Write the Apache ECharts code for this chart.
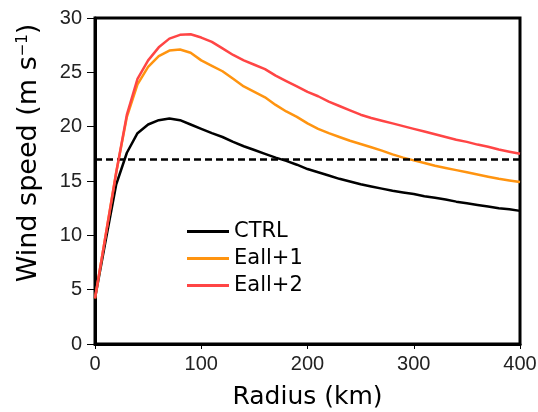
<!DOCTYPE html>
<html>
<head>
<meta charset="utf-8">
<script src="https://cdn.jsdelivr.net/npm/echarts@6/dist/echarts.min.js"></script>
<style>
  html, body { margin: 0; padding: 0; background: #fff; }
  #main { width: 538px; height: 412px; }
</style>
</head>
<body>
<div id="main"></div>
<script>
// radius (km), every 10 km
var radius = [0, 10, 20, 30, 40, 50, 60, 70, 80, 90, 100, 110, 120, 130, 140, 150, 160, 170, 180, 190, 200,
  210, 220, 230, 240, 250, 260, 270, 280, 290, 300, 310, 320, 330, 340, 350, 360, 370, 380, 390, 400];

// wind speed (m/s)
var ctrl = [4.2, 9.5, 14.7, 17.6, 19.4, 20.2, 20.6, 20.75, 20.6, 20.2, 19.8, 19.4, 19.05, 18.6, 18.2, 17.85, 17.5, 17.15, 16.85, 16.5, 16.1,
  15.8, 15.5, 15.2, 14.95, 14.7, 14.5, 14.3, 14.1, 13.95, 13.8, 13.6, 13.45, 13.3, 13.1, 12.95, 12.8, 12.65, 12.5, 12.4, 12.25];
var eall1 = [4.2, 10.0, 15.8, 20.9, 23.9, 25.5, 26.5, 27.0, 27.1, 26.8, 26.1, 25.6, 25.1, 24.4, 23.7, 23.2, 22.7, 22.0, 21.4, 20.9, 20.3,
  19.8, 19.4, 19.05, 18.7, 18.4, 18.1, 17.8, 17.45, 17.15, 16.9, 16.65, 16.4, 16.2, 16.0, 15.8, 15.6, 15.4, 15.2, 15.05, 14.9];
var eall2 = [4.2, 10.0, 15.8, 21.1, 24.4, 26.1, 27.3, 28.1, 28.45, 28.5, 28.2, 27.8, 27.2, 26.6, 26.1, 25.7, 25.3, 24.7, 24.2, 23.7, 23.2,
  22.8, 22.3, 21.9, 21.5, 21.1, 20.8, 20.55, 20.3, 20.05, 19.8, 19.55, 19.3, 19.05, 18.8, 18.6, 18.35, 18.15, 17.9, 17.7, 17.5];

var threshold = 17;

function pairs(vals) {
  return radius.map(function (r, i) { return [r, vals[i]]; });
}

var chart = echarts.init(document.getElementById('main'));

var lbl = { fontFamily: 'Liberation Sans', fontSize: 20, color: '#222' };

chart.setOption({
  animation: false,
  grid: {
    left: 95, right: 18, top: 18, bottom: 68,
    outerBoundsMode: 'none', containLabel: false,
    show: true, borderColor: '#000', borderWidth: 3
  },
  legend: {
    orient: 'vertical',
    left: 187, top: 221, padding: 0,
    icon: 'rect',
    itemWidth: 42, itemHeight: 3, itemGap: 6, itemTextGap: 10,
    textStyle: { fontFamily: 'DejaVu Sans', fontSize: 21, color: '#000', lineHeight: 20 },
    data: ['CTRL', 'Eall+1', 'Eall+2']
  },
  xAxis: {
    type: 'value', min: 0, max: 400, interval: 100,
    name: 'Radius (km)', nameLocation: 'middle', nameGap: 41,
    nameTextStyle: { fontFamily: 'DejaVu Sans', fontSize: 25, color: '#000' },
    axisLine: { lineStyle: { color: '#000', width: 3 } },
    axisTick: { length: 5, lineStyle: { color: '#000', width: 1 } },
    axisLabel: Object.assign({ margin: 10 }, lbl),
    splitLine: { show: false }
  },
  yAxis: {
    type: 'value', min: 0, max: 30, interval: 5,
    axisLine: { show: true, lineStyle: { color: '#000', width: 3 } },
    axisTick: { show: true, length: 8, lineStyle: { color: '#000', width: 1 } },
    axisLabel: Object.assign({ margin: 13 }, lbl),
    splitLine: { show: false }
  },
  graphic: [{
    type: 'text',
    x: 29, y: 153,
    rotation: Math.PI / 2,
    style: {
      text: 'Wind speed (m s{sup|−1})',
      fontFamily: 'DejaVu Sans', fontSize: 27, fill: '#000',
      align: 'center', verticalAlign: 'middle',
      rich: { sup: { fontFamily: 'DejaVu Sans', fontSize: 15, verticalAlign: 'top', padding: [0, 0, 11, 0] } }
    }
  }],
  series: [{
    name: 'CTRL', type: 'line', symbol: 'none',
    lineStyle: { color: '#000', width: 2.5 }, itemStyle: { color: '#000' },
    data: pairs(ctrl),
    markLine: {
      silent: true, symbol: 'none', label: { show: false },
      lineStyle: { color: '#000', width: 2.5, type: [7, 4] },
      data: [{ yAxis: threshold }]
    },
    z: 3
  }, {
    name: 'Eall+1', type: 'line', symbol: 'none',
    lineStyle: { color: '#ff9410', width: 2.5 }, itemStyle: { color: '#ff9410' },
    data: pairs(eall1), z: 4
  }, {
    name: 'Eall+2', type: 'line', symbol: 'none',
    lineStyle: { color: '#ff4545', width: 2.5 }, itemStyle: { color: '#ff4545' },
    data: pairs(eall2), z: 5
  }]
});
</script>
</body>
</html>
